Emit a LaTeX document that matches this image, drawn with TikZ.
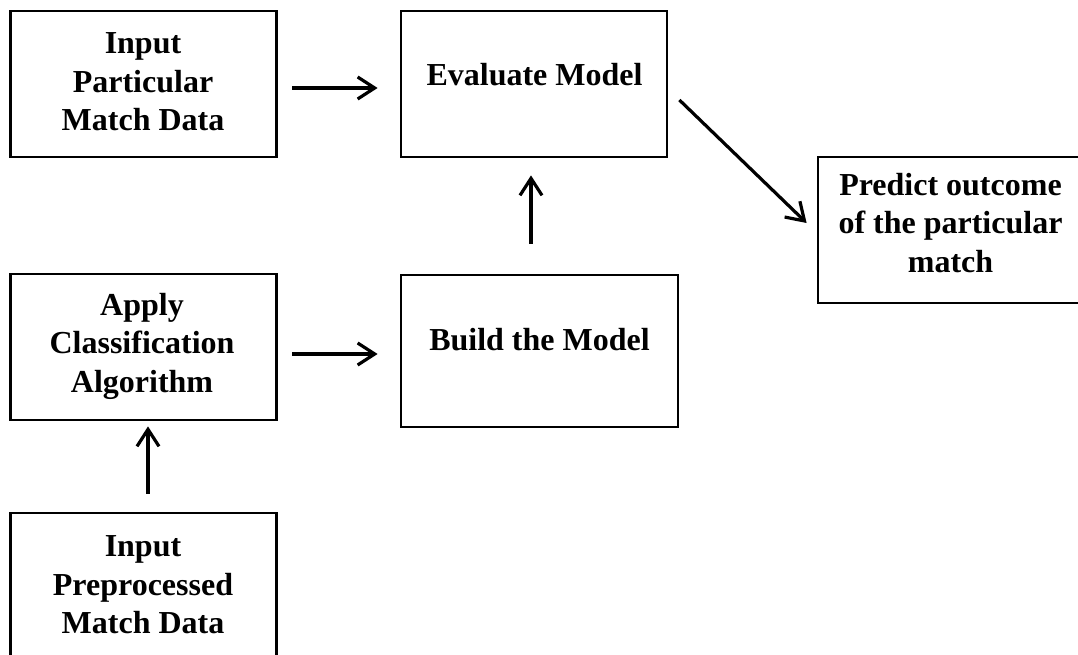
\documentclass[tikz,border=0pt]{standalone}
\usepackage{fontspec}
\setmainfont{Liberation Serif}
\usetikzlibrary{arrows.meta}
\tikzset{
  stepbox/.style={draw, rectangle, line width=2.8pt, inner sep=0pt},
  caption/.style={font=\fontsize{32}{38.5}\selectfont\bfseries, align=center, inner sep=0pt},
  arr/.style={line width=3.2pt, -{Straight Barb[length=17pt,width=22pt]}}
}
\begin{document}
\begin{tikzpicture}[x=1pt, y=-1pt]
  \useasboundingbox (0,0) rectangle (1078,655);
  \clip (0,0) rectangle (1078,655);

  % process boxes
  \node[stepbox, minimum width=266pt, minimum height=146pt] (inmatch) at (143.5,84) {};
  \node[stepbox, minimum width=266pt, minimum height=146pt] (evalm)   at (534,84) {};
  \node[stepbox, minimum width=266pt, minimum height=146pt] (predict) at (951,230) {};
  \node[stepbox, minimum width=266pt, minimum height=146pt] (classify) at (143.5,347) {};
  \node[stepbox, minimum width=277pt, minimum height=152pt] (buildm)  at (539.5,351) {};
  \node[stepbox, minimum width=266pt, minimum height=146pt] (inpre)   at (143.5,586) {};

  % box captions
  \node[caption] (tinmatch)  at (143,82)    {Input\\Particular\\Match Data};
  \node[caption] (tevalm)    at (534.5,75)  {Evaluate Model};
  \node[caption] (tpredict)  at (950.5,223) {Predict outcome\\of the particular\\match};
  \node[caption] (tclassify) at (142,346)   {Apply\\Classification\\Algorithm};
  \node[caption] (tbuildm)   at (539.5,340) {Build the Model};
  \node[caption] (tinpre)    at (143,585)   {Input\\Preprocessed\\Match Data};

  % flow arrows
  \draw[arr, shorten <=14.5pt, shorten >=22pt] ([yshift=-4pt]inmatch.east) -- ([yshift=-4pt]evalm.west);
  \draw[arr, shorten <=14.5pt, shorten >=22pt] ([yshift=-7pt]classify.east) -- ([yshift=-3pt]buildm.west);
  \draw[arr, shorten <=30pt, shorten >=17pt] ([xshift=-8.5pt]buildm.north) -- ([xshift=-3pt]evalm.south);
  \draw[arr, shorten <=18pt, shorten >=5pt] ([xshift=4.5pt]inpre.north) -- ([xshift=4.5pt]classify.south);
  \draw[arr] ([xshift=11pt,yshift=-16pt]evalm.east) -- ([xshift=-10pt,yshift=7pt]predict.west);
\end{tikzpicture}
\end{document}
